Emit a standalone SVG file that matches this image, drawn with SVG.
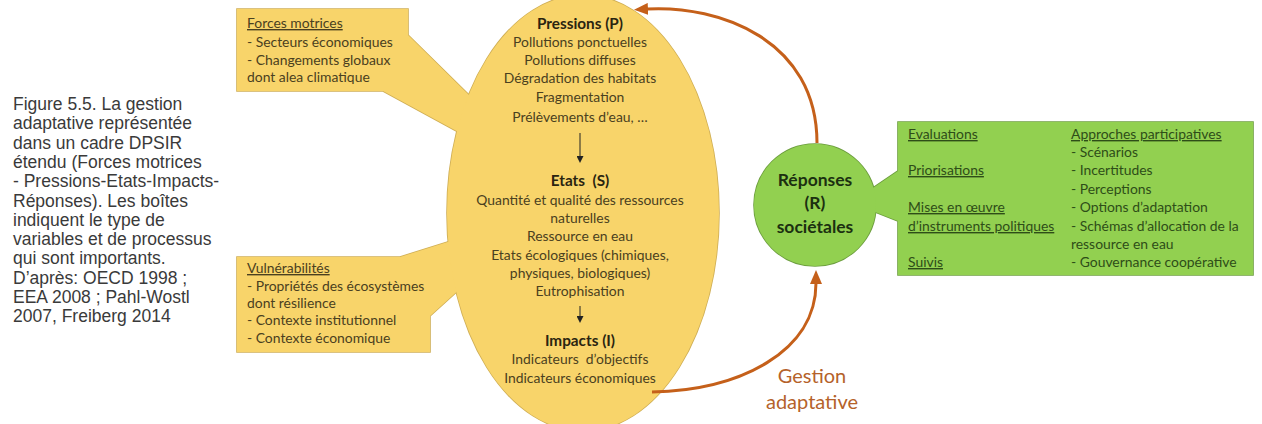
<svg xmlns="http://www.w3.org/2000/svg" width="1262" height="424" viewBox="0 0 1262 424">
<style>
.cap{font-family:"Liberation Sans",Arial,sans-serif;font-size:17.5px;fill:#3a3a3a}
.y{font-family:Lato,"Open Sans",sans-serif;font-size:13.9px;fill:#4a4020}
.yc{text-anchor:middle}
.yb{font-family:Lato,"Open Sans",sans-serif;font-size:15.3px;font-weight:bold;fill:#2a2410;text-anchor:middle}
.g{font-family:Lato,"Open Sans",sans-serif;font-size:13.9px;fill:#2e4d18}
.u{text-decoration:underline}
.rb{font-family:Lato,"Open Sans",sans-serif;font-size:17.5px;font-weight:bold;fill:#1c3010;text-anchor:middle}
.ga{font-family:Lato,"Open Sans",sans-serif;font-size:20px;fill:#b5622a;text-anchor:middle}
.yfill{fill:#f8d46a}
.gfill{fill:#92d050}
.yline{fill:#f8d46a;stroke:#cfae55;stroke-width:1.6}
.gline{fill:#92d050;stroke:#6d9e3f;stroke-width:1.6}
.conn{fill:none;stroke:#c5601a;stroke-width:3}
.small{fill:none;stroke:#222;stroke-width:1}
</style>
<defs>
<marker id="ah" markerUnits="userSpaceOnUse" markerWidth="14" markerHeight="12" refX="1" refY="6" orient="auto" viewBox="0 0 14 12"><path d="M0,0 L14,6 L0,12 z" fill="#c5601a"/></marker>
<marker id="sah" markerUnits="userSpaceOnUse" markerWidth="7" markerHeight="7" refX="1" refY="3.5" orient="auto" viewBox="0 0 7 7"><path d="M0,0 L7,3.5 L0,7 z" fill="#222"/></marker>
</defs>

<g id="caption">
<text class="cap" x="13" y="110">Figure 5.5. La gestion</text>
<text class="cap" x="13" y="129.3">adaptative représentée</text>
<text class="cap" x="13" y="148.6">dans un cadre DPSIR</text>
<text class="cap" x="13" y="168">étendu (Forces motrices</text>
<text class="cap" x="13" y="187.2">- Pressions-Etats-Impacts-</text>
<text class="cap" x="13" y="206.5">Réponses). Les boîtes</text>
<text class="cap" x="13" y="225.8">indiquent le type de</text>
<text class="cap" x="13" y="245.1">variables et de processus</text>
<text class="cap" x="13" y="264.4">qui sont importants.</text>
<text class="cap" x="13" y="283.7">D’après: OECD 1998 ;</text>
<text class="cap" x="13" y="303">EEA 2008 ; Pahl-Wostl</text>
<text class="cap" x="13" y="322.3">2007, Freiberg 2014</text>
</g>

<g id="outlines">
<path class="yline" d="M237,9 L408,9 L408,35 L472,98 L462,134 L383,91 L237,91 Z"/>
<path class="yline" d="M237,257 L400,257 L454,240 L462,287 L430,316 L430,352 L237,352 Z"/>
<ellipse class="yline" cx="583" cy="213" rx="136" ry="218"/>
<path class="gline" d="M870,190 L898,171 L898,122 L1253,122 L1253,275 L898,275 L898,221 L870,210 Z"/>
<circle class="gline" cx="815" cy="205" r="61"/>
</g>

<g id="node-forces-motrices">
<path class="yfill" d="M237,9 L408,9 L408,35 L472,98 L462,134 L383,91 L237,91 Z"/>
<text class="y u" x="247" y="28">Forces motrices</text>
<text class="y" x="247" y="47">- Secteurs économiques</text>
<text class="y" x="247" y="65">- Changements globaux</text>
<text class="y" x="247" y="82">dont alea climatique</text>
</g>

<g id="node-vulnerabilites">
<path class="yfill" d="M237,257 L400,257 L454,240 L462,287 L430,316 L430,352 L237,352 Z"/>
<text class="y u" x="247" y="273">Vulnérabilités</text>
<text class="y" x="247" y="291">- Propriétés des écosystèmes</text>
<text class="y" x="247" y="308">dont résilience</text>
<text class="y" x="247" y="325">- Contexte institutionnel</text>
<text class="y" x="247" y="343">- Contexte économique</text>
</g>

<g id="node-dpsir">
<ellipse class="yfill" cx="583" cy="213" rx="136" ry="218"/>
<text class="yb" x="580" y="28.5">Pressions (P)</text>
<text class="y yc" x="580" y="47">Pollutions ponctuelles</text>
<text class="y yc" x="580" y="65">Pollutions diffuses</text>
<text class="y yc" x="580" y="83">Dégradation des habitats</text>
<text class="y yc" x="580" y="102">Fragmentation</text>
<text class="y yc" x="580" y="122">Prélèvements d’eau, …</text>
<line class="small" x1="580" y1="133" x2="580" y2="157" marker-end="url(#sah)"/>
<text class="yb" x="580" y="186">Etats&#160; (S)</text>
<text class="y yc" x="580" y="205">Quantité et qualité des ressources</text>
<text class="y yc" x="580" y="223">naturelles</text>
<text class="y yc" x="580" y="241">Ressource en eau</text>
<text class="y yc" x="580" y="260">Etats écologiques (chimiques,</text>
<text class="y yc" x="580" y="278">physiques, biologiques)</text>
<text class="y yc" x="580" y="296">Eutrophisation</text>
<line class="small" x1="580" y1="306" x2="580" y2="317" marker-end="url(#sah)"/>
<text class="yb" x="580" y="345.5">Impacts (I)</text>
<text class="y yc" x="580" y="364">Indicateurs&#160; d’objectifs</text>
<text class="y yc" x="580" y="383">Indicateurs économiques</text>
</g>

<g id="node-reponses-detail">
<path class="gfill" d="M870,190 L898,171 L898,122 L1253,122 L1253,275 L898,275 L898,221 L870,210 Z"/>
<text class="g u" x="908" y="139">Evaluations</text>
<text class="g u" x="908" y="175">Priorisations</text>
<text class="g u" x="908" y="212">Mises en œuvre</text>
<text class="g u" x="908" y="231">d’instruments politiques</text>
<text class="g u" x="908" y="267">Suivis</text>
<text class="g u" x="1071" y="139">Approches participatives</text>
<text class="g" x="1071" y="157">- Scénarios</text>
<text class="g" x="1071" y="175">- Incertitudes</text>
<text class="g" x="1071" y="194">- Perceptions</text>
<text class="g" x="1071" y="212">- Options d’adaptation</text>
<text class="g" x="1071" y="231">- Schémas d’allocation de la</text>
<text class="g" x="1071" y="249">ressource en eau</text>
<text class="g" x="1071" y="267">- Gouvernance coopérative</text>
</g>

<g id="node-reponses">
<circle class="gfill" cx="815" cy="205" r="61"/>
<text class="rb" x="815" y="186">Réponses</text>
<text class="rb" x="815" y="209">(R)</text>
<text class="rb" x="815" y="233">sociétales</text>
</g>

<g id="connectors">
<path class="conn" d="M817,143 C817,40 720,5 647,9" marker-end="url(#ah)"/>
<path class="conn" d="M652,392 C740,390 816,352 816,283" marker-end="url(#ah)"/>
</g>

<g id="label-gestion">
<text class="ga" x="812" y="383">Gestion</text>
<text class="ga" x="812" y="409">adaptative</text>
</g>
</svg>
